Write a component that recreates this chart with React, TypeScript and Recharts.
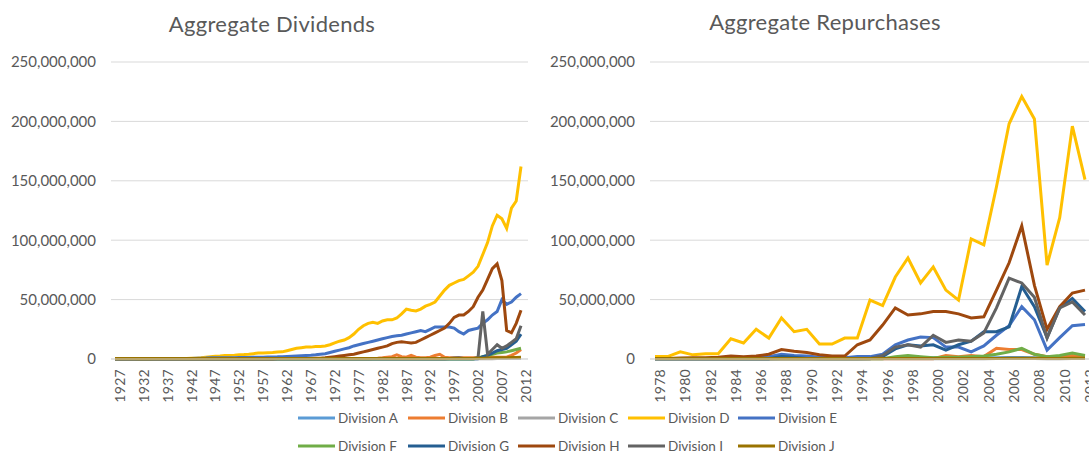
import { LineChart, Line, XAxis, YAxis, CartesianGrid } from 'recharts';

// values are in millions
const divYears = [
  1927, 1928, 1929, 1930, 1931, 1932, 1933, 1934, 1935, 1936,
  1937, 1938, 1939, 1940, 1941, 1942, 1943, 1944, 1945, 1946,
  1947, 1948, 1949, 1950, 1951, 1952, 1953, 1954, 1955, 1956,
  1957, 1958, 1959, 1960, 1961, 1962, 1963, 1964, 1965, 1966,
  1967, 1968, 1969, 1970, 1971, 1972, 1973, 1974, 1975, 1976,
  1977, 1978, 1979, 1980, 1981, 1982, 1983, 1984, 1985, 1986,
  1987, 1988, 1989, 1990, 1991, 1992, 1993, 1994, 1995, 1996,
  1997, 1998, 1999, 2000, 2001, 2002, 2003, 2004, 2005, 2006,
  2007, 2008, 2009, 2010, 2011, 2012,
];

const divA = [
  0.3, 0.3, 0.3, 0.3, 0.3, 0.3, 0.3, 0.3, 0.3, 0.3,
  0.3, 0.3, 0.3, 0.3, 0.3, 0.3, 0.3, 0.3, 0.3, 0.3,
  0.3, 0.3, 0.3, 0.3, 0.3, 0.3, 0.3, 0.3, 0.3, 0.3,
  0.3, 0.3, 0.3, 0.3, 0.3, 0.3, 0.3, 0.3, 0.3, 0.3,
  0.3, 0.3, 0.3, 0.3, 0.3, 0.3, 0.3, 0.3, 0.3, 0.3,
  0.3, 0.3, 0.3, 0.3, 0.3, 0.3, 0.3, 0.3, 0.3, 0.3,
  0.3, 0.3, 0.3, 0.3, 0.3, 0.3, 0.3, 0.3, 0.3, 0.3,
  0.3, 0.3, 0.3, 0.3, 0.3, 0.3, 0.4, 0.5, 0.6, 0.7,
  0.8, 0.8, 0.9, 0.9, 1.0, 1.0,
];
const divB = [
  0.2, 0.2, 0.2, 0.2, 0.2, 0.2, 0.2, 0.2, 0.2, 0.2,
  0.2, 0.2, 0.2, 0.2, 0.2, 0.2, 0.2, 0.2, 0.2, 0.2,
  0.2, 0.2, 0.2, 0.2, 0.2, 0.2, 0.2, 0.2, 0.2, 0.2,
  0.2, 0.2, 0.2, 0.2, 0.2, 0.2, 0.2, 0.2, 0.2, 0.2,
  0.2, 0.2, 0.2, 0.2, 0.2, 0.2, 0.2, 0.2, 0.2, 0.2,
  0.2, 0.2, 0.2, 0.2, 0.5, 0.7, 1.0, 1.5, 2.0, 3.5,
  2.0, 1.5, 3.0, 1.5, 1.0, 1.0, 1.5, 3.0, 4.0, 1.5,
  1.0, 1.0, 1.0, 1.0, 1.0, 1.0, 1.0, 1.5, 1.5, 1.5,
  1.5, 1.5, 1.5, 3.0, 5.0, 8.0,
];
const divC = [
  0.2, 0.2, 0.2, 0.2, 0.2, 0.2, 0.2, 0.2, 0.2, 0.2,
  0.2, 0.2, 0.2, 0.2, 0.2, 0.2, 0.2, 0.2, 0.2, 0.2,
  0.2, 0.2, 0.2, 0.2, 0.2, 0.2, 0.2, 0.2, 0.2, 0.2,
  0.2, 0.2, 0.2, 0.2, 0.2, 0.2, 0.2, 0.2, 0.2, 0.2,
  0.2, 0.2, 0.2, 0.2, 0.2, 0.2, 0.2, 0.2, 0.2, 0.2,
  0.2, 0.2, 0.2, 0.2, 0.2, 0.2, 0.2, 0.2, 0.2, 0.2,
  0.2, 0.2, 0.2, 0.2, 0.2, 0.2, 0.2, 0.2, 0.2, 0.2,
  0.2, 0.2, 0.2, 0.2, 0.2, 0.2, 0.2, 0.3, 0.3, 0.3,
  0.4, 0.4, 0.4, 0.5, 0.5, 0.5,
];
const divD = [
  0.5, 0.5, 0.5, 0.5, 0.4, 0.3, 0.3, 0.3, 0.4, 0.5,
  0.5, 0.4, 0.5, 0.5, 0.5, 0.5, 0.6, 0.7, 1.0, 1.5,
  2.0, 2.3, 2.5, 3.0, 3.0, 3.2, 3.5, 3.7, 4.0, 4.5,
  5.0, 5.0, 5.3, 5.5, 5.8, 6.0, 7.0, 8.0, 9.0, 9.5,
  10, 10, 10.5, 10.5, 11, 12, 13.5, 15, 16, 18,
  21, 25, 28, 30, 31, 30, 32, 33, 33, 34.5,
  38, 42, 41, 40.5, 42, 44.5, 46, 48, 53, 58,
  62, 64, 66, 67, 70, 73, 78, 88, 98, 112,
  121, 118, 110, 127, 133, 162,
];
const divE = [
  0.5, 0.5, 0.5, 0.5, 0.5, 0.5, 0.5, 0.5, 0.5, 0.5,
  0.5, 0.5, 0.5, 0.5, 0.5, 0.5, 0.5, 0.6, 0.7, 0.8,
  1.0, 1.0, 1.0, 1.0, 1.0, 1.0, 1.2, 1.2, 1.3, 1.4,
  1.5, 1.5, 1.6, 1.7, 1.8, 2.0, 2.2, 2.4, 2.6, 2.8,
  3.0, 3.2, 3.5, 4.0, 4.5, 5.5, 6.5, 7.5, 8.5, 9.5,
  11, 12, 13, 14, 15, 16, 17, 18, 19, 19.5,
  20, 21, 22, 23, 24, 23, 25, 27, 27, 27,
  27, 26, 23, 21, 24, 25, 26, 30, 33, 37,
  40, 50, 46, 48, 52, 55,
];
const divF = [
  0, 0, 0, 0, 0, 0, 0, 0, 0, 0,
  0, 0, 0, 0, 0, 0, 0, 0, 0, 0,
  0, 0, 0, 0, 0, 0, 0, 0, 0, 0,
  0, 0, 0, 0, 0, 0, 0, 0, 0, 0,
  0, 0, 0, 0, 0, 0, 0, 0, 0, 0,
  0, 0, 0, 0, 0, 0, 0, 0, 0, 0,
  0, 0, 0, 0, 0, 0, 0, 0, 0, 0,
  0, 0, 0, 0, 0, 0, 1.0, 2.0, 3.0, 4.0,
  5.0, 5.5, 6.0, 7.0, 8.0, 9.0,
];
const divG = [
  0.2, 0.2, 0.2, 0.2, 0.2, 0.2, 0.2, 0.2, 0.2, 0.2,
  0.2, 0.2, 0.2, 0.2, 0.2, 0.2, 0.2, 0.2, 0.2, 0.2,
  0.2, 0.2, 0.2, 0.2, 0.2, 0.2, 0.2, 0.2, 0.2, 0.2,
  0.2, 0.2, 0.2, 0.2, 0.2, 0.2, 0.2, 0.2, 0.2, 0.2,
  0.2, 0.2, 0.2, 0.2, 0.2, 0.2, 0.2, 0.2, 0.2, 0.2,
  0.2, 0.2, 0.2, 0.2, 0.2, 0.2, 0.2, 0.2, 0.2, 0.2,
  0.2, 0.2, 0.2, 0.2, 0.2, 0.2, 0.2, 0.2, 0.2, 0.2,
  0.2, 0.2, 0.2, 0.2, 0.2, 0.2, 0.2, 2.0, 3.0, 5.0,
  7.0, 8.0, 9.0, 12, 15, 21,
];
const divH = [
  0.3, 0.3, 0.3, 0.3, 0.3, 0.3, 0.3, 0.3, 0.3, 0.3,
  0.3, 0.3, 0.3, 0.3, 0.3, 0.3, 0.3, 0.3, 0.3, 0.3,
  0.3, 0.3, 0.3, 0.3, 0.3, 0.3, 0.3, 0.3, 0.3, 0.3,
  0.3, 0.3, 0.3, 0.3, 0.4, 0.4, 0.4, 0.4, 0.5, 0.5,
  0.5, 0.5, 0.6, 0.7, 1.0, 1.5, 2.0, 2.5, 3.0, 3.5,
  4.0, 5.0, 6.0, 7.0, 8.0, 9.0, 10, 11, 13, 14,
  14.5, 14, 13.5, 14, 16, 18, 20, 22, 24, 26,
  30, 35, 37, 37, 40, 44, 52, 58, 67, 76,
  80, 66, 24, 22, 30, 41,
];
const divI = [
  0.3, 0.3, 0.3, 0.3, 0.3, 0.3, 0.3, 0.3, 0.3, 0.3,
  0.3, 0.3, 0.3, 0.3, 0.3, 0.3, 0.3, 0.3, 0.3, 0.3,
  0.3, 0.3, 0.3, 0.3, 0.3, 0.3, 0.3, 0.3, 0.3, 0.3,
  0.3, 0.3, 0.3, 0.3, 0.3, 0.3, 0.3, 0.3, 0.3, 0.3,
  0.3, 0.3, 0.3, 0.3, 0.3, 0.3, 0.3, 0.3, 0.3, 0.3,
  0.3, 0.3, 0.3, 0.3, 0.3, 0.3, 0.3, 0.3, 0.3, 0.3,
  0.3, 0.3, 0.3, 0.3, 0.3, 0.3, 0.3, 0.3, 0.3, 0.3,
  0.5, 0.8, 1.0, 0.5, 0.5, 0.5, 1.0, 40, 4.0, 8.0,
  12, 9.0, 11, 14, 17, 28,
];
const divJ = [
  0.5, 0.5, 0.5, 0.5, 0.5, 0.5, 0.5, 0.5, 0.5, 0.5,
  0.5, 0.5, 0.5, 0.5, 0.5, 0.5, 0.5, 0.5, 0.5, 0.5,
  0.5, 0.5, 0.5, 0.5, 0.5, 0.5, 0.5, 0.5, 0.5, 0.5,
  0.5, 0.5, 0.5, 0.5, 0.5, 0.5, 0.5, 0.5, 0.5, 0.5,
  0.5, 0.5, 0.5, 0.5, 0.5, 0.5, 0.5, 0.5, 0.5, 0.5,
  0.5, 0.5, 0.5, 0.5, 0.5, 0.5, 0.5, 0.5, 0.5, 0.5,
  0.5, 0.5, 0.5, 0.5, 0.5, 0.5, 0.5, 0.5, 0.5, 0.5,
  0.5, 0.5, 0.5, 0.5, 0.5, 0.5, 0.6, 0.7, 0.8, 0.9,
  1.0, 1.0, 1.1, 1.2, 1.3, 1.5,
];

const repYears = [
  1978, 1979, 1980, 1981, 1982, 1983, 1984, 1985, 1986, 1987,
  1988, 1989, 1990, 1991, 1992, 1993, 1994, 1995, 1996, 1997,
  1998, 1999, 2000, 2001, 2002, 2003, 2004, 2005, 2006, 2007,
  2008, 2009, 2010, 2011, 2012,
];

const repA = [
  0.3, 0.3, 0.3, 0.3, 0.3, 0.3, 0.3, 0.3, 0.3, 0.3,
  0.5, 0.5, 0.4, 0.3, 0.3, 0.3, 0.3, 0.4, 0.5, 0.8,
  1.0, 1.0, 1.0, 0.8, 0.8, 0.8, 1.0, 1.0, 1.2, 1.2,
  1.0, 0.6, 0.8, 1.0, 1.0,
];
const repB = [
  0.3, 0.3, 0.3, 0.3, 0.3, 0.3, 0.3, 0.3, 0.3, 0.3,
  0.3, 0.3, 0.3, 0.3, 0.3, 0.3, 0.3, 0.3, 0.3, 0.3,
  0.3, 0.3, 0.3, 3.0, 2.0, 3.0, 2.0, 9.0, 8.0, 8.0,
  4.0, 2.0, 2.0, 3.0, 2.0,
];
const repC = [
  0.2, 0.2, 0.2, 0.2, 0.2, 0.2, 0.2, 0.2, 0.2, 0.2,
  0.2, 0.2, 0.2, 0.2, 0.2, 0.2, 0.2, 0.2, 0.2, 0.3,
  0.3, 0.3, 0.3, 0.3, 0.3, 0.3, 0.3, 0.5, 0.5, 0.5,
  0.4, 0.3, 0.3, 0.4, 0.4,
];
const repD = [
  2.0, 2.0, 6.0, 3.5, 4.5, 4.5, 17, 13.5, 25, 17.6,
  34.5, 23, 25, 12.6, 12.6, 17.6, 17.6, 49.6, 45, 69,
  85, 64, 77.5, 58, 49.6, 101, 96, 145, 198, 221,
  202, 79, 119, 196, 151,
];
const repE = [
  0.5, 0.5, 0.5, 0.5, 0.5, 0.5, 0.5, 0.5, 1.0, 2.0,
  4.0, 3.0, 2.5, 1.5, 1.0, 1.0, 2.0, 2.0, 4.0, 12,
  16, 18.5, 18, 10, 10, 6.0, 11, 20, 28, 44,
  33, 7.5, 18, 28, 29,
];
const repF = [
  0.2, 0.2, 0.2, 0.2, 0.2, 0.2, 0.2, 0.2, 0.2, 0.2,
  0.2, 0.2, 0.2, 0.2, 0.2, 0.2, 0.2, 0.2, 0.2, 2.0,
  3.0, 2.0, 1.0, 1.5, 1.5, 2.0, 2.5, 4.0, 6.0, 9.0,
  4.0, 2.0, 3.0, 5.0, 3.0,
];
const repG = [
  0.3, 0.3, 0.3, 0.3, 0.3, 0.3, 0.3, 0.3, 0.3, 0.3,
  2.0, 1.5, 0.5, 0.5, 0.5, 0.5, 0.5, 0.5, 2.0, 8.5,
  12, 11, 12, 7.5, 12, 15, 23, 23, 27, 61,
  44, 18, 43, 51, 40,
];
const repH = [
  0.5, 0.5, 0.8, 1.0, 1.0, 1.5, 2.5, 2.0, 2.5, 4.0,
  8.0, 6.5, 5.5, 3.5, 2.5, 2.5, 12, 16, 28.6, 43,
  37, 38, 40, 40, 38, 34.5, 35.5, 58, 81, 112,
  62, 25, 44, 55.5, 58,
];
const repI = [
  0.3, 0.3, 0.3, 0.3, 0.3, 0.3, 0.3, 0.3, 0.3, 0.3,
  0.3, 0.3, 0.3, 0.3, 0.3, 0.3, 0.3, 0.3, 3.0, 10,
  12, 10, 20, 14, 16, 15, 22, 43, 68, 64,
  52, 17.6, 43, 48, 37,
];
const repJ = [
  0.5, 0.5, 0.5, 0.5, 0.5, 0.5, 0.5, 0.5, 0.5, 0.5,
  0.5, 0.5, 0.5, 0.5, 0.5, 0.5, 0.5, 0.5, 0.5, 0.5,
  0.5, 0.5, 0.5, 0.5, 0.5, 0.5, 0.5, 0.5, 0.6, 0.6,
  0.6, 0.5, 0.5, 0.6, 0.6,
];

const yTicks = [0, 50, 100, 150, 200, 250];

const divisions = [
  { key: 'A', name: 'Division A', color: '#5B9BD5' },
  { key: 'B', name: 'Division B', color: '#ED7D31' },
  { key: 'C', name: 'Division C', color: '#A5A5A5' },
  { key: 'D', name: 'Division D', color: '#FFC000' },
  { key: 'E', name: 'Division E', color: '#4472C4' },
  { key: 'F', name: 'Division F', color: '#70AD47' },
  { key: 'G', name: 'Division G', color: '#255E91' },
  { key: 'H', name: 'Division H', color: '#9E480E' },
  { key: 'I', name: 'Division I', color: '#636363' },
  { key: 'J', name: 'Division J', color: '#997300' },
];

const divSeries: Record<string, number[]> = {
  A: divA, B: divB, C: divC, D: divD, E: divE, F: divF, G: divG, H: divH, I: divI, J: divJ,
};
const repSeries: Record<string, number[]> = {
  A: repA, B: repB, C: repC, D: repD, E: repE, F: repF, G: repG, H: repH, I: repI, J: repJ,
};

function buildRows(years: number[], series: Record<string, number[]>) {
  return years.map((year, i) => {
    const row: Record<string, number> = { year };
    for (const d of divisions) row[d.key] = series[d.key][i];
    return row;
  });
}

const divRows = buildRows(divYears, divSeries);
const repRows = buildRows(repYears, repSeries);

const FONT = 'Lato, "Open Sans", sans-serif';
const TEXT = '#595959';
const GRID = '#d9d9d9';

const fmtMillions = (v: number) => (v * 1000000).toLocaleString('en-US');

function Panel({
  rows,
  width,
  right,
  yWidth,
  interval,
  padding,
}: {
  rows: Record<string, number>[];
  width: number;
  right: number;
  yWidth: number;
  interval: number;
  padding: { left: number; right: number };
}) {
  return (
    <LineChart width={width} height={406} data={rows} margin={{ top: 62, right, bottom: 0, left: 0 }}>
      <CartesianGrid vertical={false} stroke={GRID} strokeWidth={1} />
      <XAxis
        dataKey="year"
        interval={interval}
        angle={-90}
        textAnchor="end"
        height={47}
        padding={padding}
        tickLine={false}
        axisLine={{ stroke: GRID }}
        tick={{ fill: TEXT, fontSize: 14, fontFamily: FONT, letterSpacing: 0.3 }}
        tickMargin={4}
      />
      <YAxis
        domain={[0, 250]}
        ticks={yTicks}
        width={yWidth}
        tickFormatter={fmtMillions}
        axisLine={false}
        tickLine={false}
        tickSize={0}
        tickMargin={15}
        tick={{ fill: TEXT, fontSize: 15, fontFamily: FONT }}
      />
      {divisions.map((d) => (
        <Line
          key={d.key}
          type="linear"
          dataKey={d.key}
          name={d.name}
          stroke={d.color}
          strokeWidth={3}
          dot={false}
          isAnimationActive={false}
        />
      ))}
    </LineChart>
  );
}

function LegendRow({ items, top }: { items: typeof divisions; top: number }) {
  return (
    <div style={{ position: 'absolute', left: 298, top, display: 'flex' }}>
      {items.map((d) => (
        <div key={d.key} style={{ width: 110, display: 'flex', alignItems: 'center', height: 18 }}>
          <svg width={37} height={6} style={{ display: 'block' }}>
            <line x1={0} y1={3} x2={37} y2={3} stroke={d.color} strokeWidth={3} />
          </svg>
          <span style={{ marginLeft: 3, fontSize: 13.5, color: TEXT, fontFamily: FONT, whiteSpace: 'nowrap' }}>
            {d.name}
          </span>
        </div>
      ))}
    </div>
  );
}

export default function App() {
  const titleStyle = {
    position: 'absolute' as const,
    top: 9,
    fontSize: 22,
    color: TEXT,
    fontFamily: FONT,
    textAlign: 'center' as const,
    width: 400,
    lineHeight: '30px',
    letterSpacing: 0.3,
  };
  return (
    <div
      style={{
        position: 'absolute',
        left: 0,
        top: 0,
        width: 1089,
        height: 453,
        overflow: 'hidden',
        background: '#ffffff',
        fontFamily: FONT,
      }}
    >
      <div style={{ ...titleStyle, left: 272 - 200 }}>Aggregate Dividends</div>
      <div style={{ ...titleStyle, left: 825 - 200, top: 7 }}>Aggregate Repurchases</div>
      <div style={{ position: 'absolute', left: 0, top: 0 }}>
        <Panel rows={divRows} width={545} right={17} yWidth={111} interval={4} padding={{ left: 4, right: 7 }} />
      </div>
      <div style={{ position: 'absolute', left: 545, top: 0 }}>
        <Panel rows={repRows} width={560} right={0} yWidth={105} interval={1} padding={{ left: 5, right: 20 }} />
      </div>
      <LegendRow items={divisions.slice(0, 5)} top={409} />
      <LegendRow items={divisions.slice(5)} top={437} />
    </div>
  );
}
